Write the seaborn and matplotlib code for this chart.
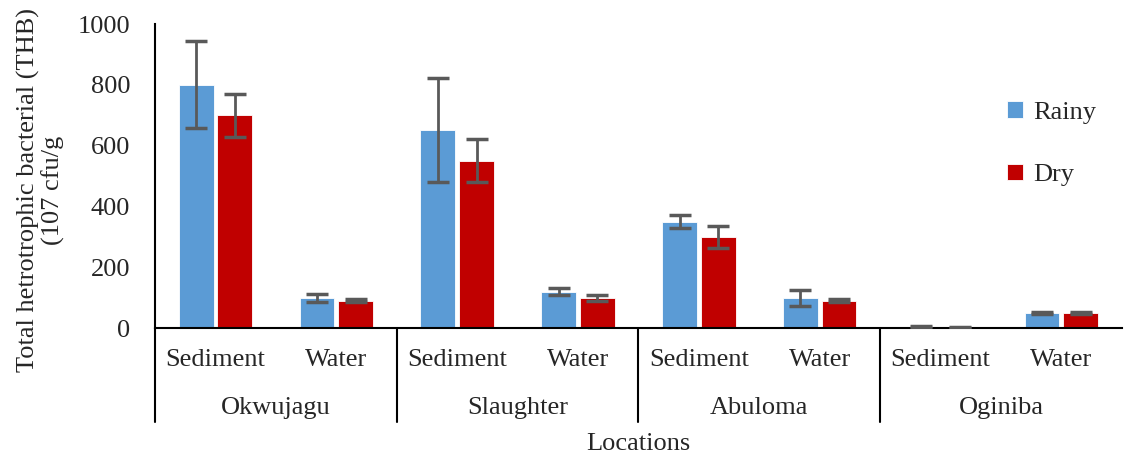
import numpy as np
import pandas as pd
import matplotlib
matplotlib.use("Agg")
import matplotlib.pyplot as plt
import matplotlib.transforms as mtransforms
import seaborn as sns

sns.set_style("white")
plt.rcParams["font.family"] = ["Liberation Serif", "DejaVu Serif"]

# data
locations = ['Okwujagu', 'Slaughter', 'Abuloma', 'Oginiba']
media = ['Sediment', 'Water']
seasons = ['Rainy', 'Dry']
rainy_vals = [800, 100, 650, 120, 350, 100, 3, 50]
rainy_err = [143, 13, 171, 12, 21, 26, 2, 3]
dry_vals = [700, 90, 550, 100, 300, 90, 1, 50]
dry_err = [71, 4, 71, 10, 36, 6, 1, 3]
colors = ['#5B9BD5', '#C00000']

# long-form table
cats = [f'{loc}|{m}' for loc in locations for m in media]
df = pd.DataFrame({
    'cat': cats * 2,
    'season': ['Rainy'] * len(cats) + ['Dry'] * len(cats),
    'value': rainy_vals + dry_vals,
    'err': rainy_err + dry_err,
})

fs = 19

fig = plt.figure(figsize=(11.24, 4.59), dpi=100)
ax = fig.add_axes([0.138, 0.2854, 0.86, 0.6623])

sns.barplot(data=df, x='cat', y='value', hue='season', order=cats,
            hue_order=seasons, palette=colors, saturation=1, width=0.64, gap=0.1,
            edgecolor='white', linewidth=0.6, errorbar=None, ax=ax)

# error bars at the bar centres
for container, season in zip(ax.containers, seasons):
    sub = df[df['season'] == season].set_index('cat').loc[cats]
    xs = [p.get_x() + p.get_width() / 2 for p in container.patches]
    ax.errorbar(xs, sub['value'], yerr=sub['err'], fmt='none',
                ecolor='#595959', elinewidth=2, capsize=8, capthick=2.5, zorder=5)

ax.set_ylim(0, 1000)
ax.set_xlim(-0.5, len(cats) - 0.5)
ax.set_yticks(range(0, 1001, 200))
ax.tick_params(axis='y', labelsize=fs, pad=18, length=0)
ax.set_xticks([])
ax.set_xlabel('')
ax.set_ylabel('Total hetrotrophic bacterial (THB)\n(107 cfu/g', fontsize=fs, linespacing=1.1)
ax.yaxis.set_label_coords(-0.093, 0.454)

for side in ['top', 'right']:
    ax.spines[side].set_visible(False)
for side in ['left', 'bottom']:
    ax.spines[side].set_color('black')
    ax.spines[side].set_linewidth(1.5)

# two-level category axis
trans = mtransforms.blended_transform_factory(ax.transData, ax.transAxes)
for i, c in enumerate(cats):
    ax.text(i, -0.105, c.split('|')[1], transform=trans, ha='center', va='center', fontsize=fs)
for j, loc in enumerate(locations):
    ax.text(2 * j + 0.5, -0.263, loc, transform=trans, ha='center', va='center', fontsize=fs)
    ax.plot([2 * j - 0.5, 2 * j - 0.5], [0, -0.31], transform=trans, color='black',
            lw=1.5, clip_on=False)
ax.text(0.5, -0.38, 'Locations', transform=ax.transAxes, ha='center', va='center', fontsize=fs)

leg = ax.legend(loc='upper left', bbox_to_anchor=(0.857, 0.824), frameon=False,
                fontsize=fs, handlelength=0.6, handleheight=0.6,
                handletextpad=0.4, labelspacing=1.5)

fig.savefig('out.png', dpi=100)
